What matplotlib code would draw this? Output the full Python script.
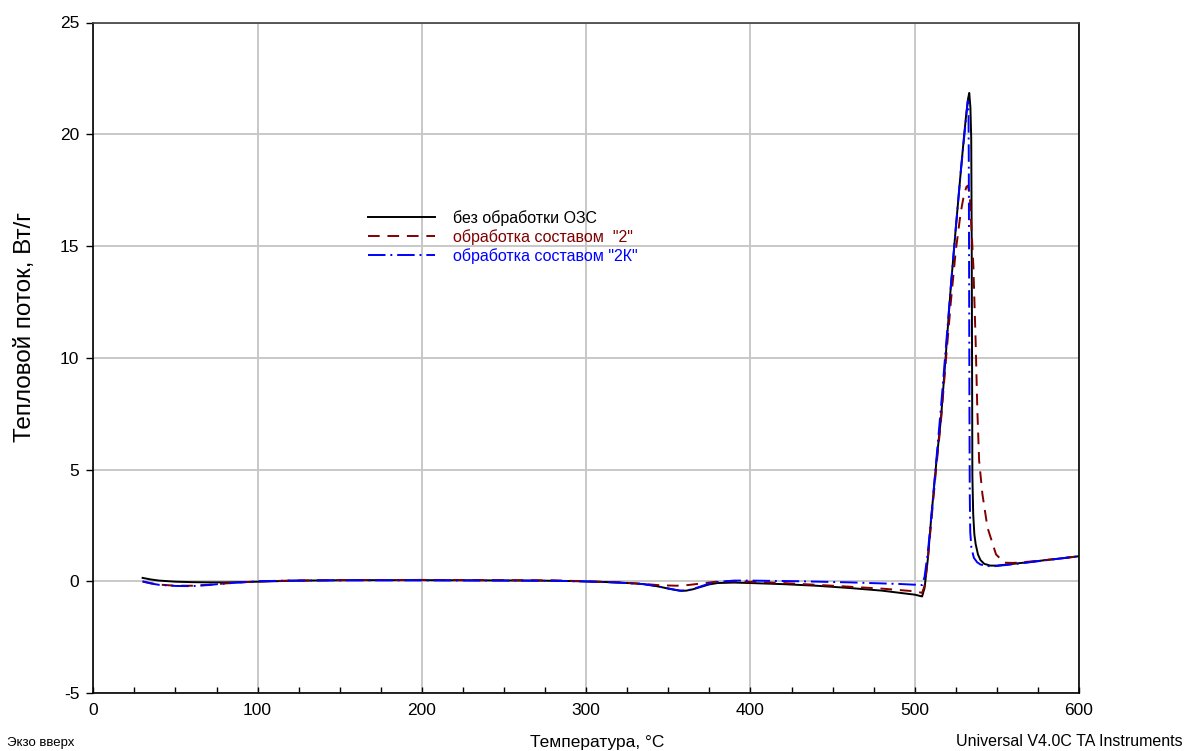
import numpy as np
import matplotlib
matplotlib.use('Agg')
import matplotlib.pyplot as plt
from matplotlib.ticker import MultipleLocator

plt.rcParams['font.family'] = ['Liberation Sans', 'DejaVu Sans']
plt.rcParams['axes.unicode_minus'] = False

# curve 1: без обработки ОЗС (black, solid)
t_black = [30, 35, 40, 50, 60, 70, 80, 90, 100, 110, 120, 140, 160, 200, 240, 270, 290, 300,
           310, 320, 330, 335, 340, 345, 350, 355, 358, 361, 365, 370, 375, 380, 390, 400,
           420, 440, 460, 480, 500, 504.5, 506, 508, 510, 513, 516, 519, 522, 525, 528, 530,
           531.5, 532.5, 533.2, 533.9, 534.4, 534.7, 534.9, 535.1, 535.6, 536.3, 537.1, 538.5,
           540, 542.3, 546, 550, 560, 570, 580, 590, 600]
q_black = [0.15, 0.08, 0.03, -0.02, -0.04, -0.05, -0.05, -0.04, -0.02, 0.0, 0.02, 0.04, 0.05,
           0.05, 0.04, 0.03, 0.01, -0.01, -0.03, -0.06, -0.1, -0.13, -0.18, -0.25, -0.33, -0.4,
           -0.43, -0.42, -0.36, -0.25, -0.14, -0.08, -0.06, -0.08, -0.13, -0.2, -0.3, -0.42,
           -0.6, -0.68, -0.3, 1.0, 2.8, 5.2, 7.3, 10.2, 13.2, 15.8, 18.3, 19.9,
           21.0, 21.6, 21.85, 21.2, 19.8, 15.0, 10.0, 4.7, 3.0, 2.1, 1.66, 1.2,
           0.95, 0.78, 0.7, 0.7, 0.78, 0.86, 0.95, 1.03, 1.12]

# curve 2: обработка составом "2" (maroon, dashed)
t_red = [30, 40, 50, 60, 70, 80, 90, 100, 120, 150, 200, 250, 280, 300, 320, 335, 345, 355,
         362, 370, 378, 385, 400, 420, 450, 480, 500, 504.5, 506, 508, 510, 513, 516, 519,
         522, 525, 528, 530, 531.5, 532.4, 533.5, 535.7, 537.1, 538.1, 539.2, 541.2, 544.3,
         549.5, 554.6, 560, 570, 580, 590, 600]
q_red = [-0.02, -0.15, -0.2, -0.2, -0.16, -0.1, -0.05, -0.01, 0.03, 0.05, 0.06, 0.05, 0.04,
         0.0, -0.05, -0.12, -0.18, -0.2, -0.17, -0.1, -0.03, 0.0, -0.02, -0.08, -0.2, -0.33,
         -0.45, -0.52, -0.2, 1.0, 2.6, 5.0, 7.2, 9.9, 12.5, 14.8, 16.5, 17.3, 17.65, 17.7,
         17.3, 14.1, 10.7, 7.7, 5.4, 3.9, 2.4, 1.2, 0.83, 0.82, 0.88, 0.95, 1.03, 1.12]

# curve 3: обработка составом "2К" (blue, dash-dot)
t_blue = [30, 35, 40, 50, 60, 70, 80, 90, 100, 120, 150, 200, 250, 280, 300, 320, 335, 345,
          352, 357, 362, 367, 373, 380, 390, 400, 430, 460, 490, 504.5, 506, 508, 510, 513,
          516, 519, 522, 525, 528, 530, 531.5, 532.3, 532.7, 532.9, 533.1, 533.3, 533.5,
          533.8, 534.5, 536, 538, 540, 544, 548, 552, 560, 570, 580, 590, 600]
q_blue = [0.0, -0.1, -0.16, -0.21, -0.22, -0.17, -0.1, -0.05, 0.0, 0.03, 0.04, 0.04, 0.03,
          0.02, -0.01, -0.06, -0.13, -0.25, -0.35, -0.42, -0.4, -0.3, -0.15, -0.03, 0.03,
          0.03, 0.0, -0.05, -0.12, -0.17, 0.2, 1.3, 2.8, 5.3, 7.8, 10.5, 13.2, 15.8, 18.3,
          19.8, 20.9, 21.5, 21.4, 19.0, 14.0, 8.0, 4.0, 2.2, 1.5, 1.05, 0.85, 0.75, 0.68,
          0.67, 0.7, 0.76, 0.85, 0.94, 1.03, 1.12]

labels = ['без обработки ОЗС', 'обработка составом  "2"', 'обработка составом "2К"']
colors = ['black', '#800000', '#0000ff']

fig = plt.figure(figsize=(11.88, 7.51), dpi=100)
ax = fig.add_axes([93.3/1188, 1-693/751, (1079-93.3)/1188, (693-22.5)/751])

ax.plot(t_black, q_black, color=colors[0], lw=1.4, label=labels[0], zorder=3)
ax.plot(t_red, q_red, color=colors[1], lw=1.4, ls=(0, (6, 4)), label=labels[1], zorder=4)
ax.plot(t_blue, q_blue, color=colors[2], lw=1.4, ls=(0, (9, 2.5, 1, 2.5)), label=labels[2], zorder=5)

ax.set_xlim(0, 600)
ax.set_ylim(-5, 25)
ax.xaxis.set_major_locator(MultipleLocator(100))
ax.xaxis.set_minor_locator(MultipleLocator(25))
ax.yaxis.set_major_locator(MultipleLocator(5))
ax.tick_params(axis='x', which='both', direction='in', length=4, width=1, labelsize=12.5, pad=7)
ax.tick_params(axis='y', direction='out', length=5, width=1, labelsize=12.5, pad=5)
ax.grid(True, which='major', color='#c8c8c8', lw=1.4)
for s in ax.spines.values():
    s.set_linewidth(1.2)
ax.spines['top'].set_color('#404040')

leg = ax.legend(loc='upper left', bbox_to_anchor=(368/1188, 1-210/751),
                bbox_transform=fig.transFigure, frameon=False, fontsize=11.5,
                handlelength=4.2, handletextpad=1.15, labelspacing=0.2,
                borderpad=0, borderaxespad=0)
for txt, c in zip(leg.get_texts(), colors):
    txt.set_color(c)

fig.text(25/1188, 1-327/751, 'Тепловой поток, Вт/г', rotation=90, fontsize=17.5,
         ha='center', va='center')
fig.text(597/1188, 1-742/751, 'Температура, °C', fontsize=12.5, ha='center', va='center')
fig.text(7/1188, 1-743/751, 'Экзо вверх', fontsize=9.5, ha='left', va='center')
fig.text(1183/1188, 1-741/751, 'Universal V4.0C TA Instruments', fontsize=11.5,
         ha='right', va='center')

fig.savefig('out.png', dpi=100)
